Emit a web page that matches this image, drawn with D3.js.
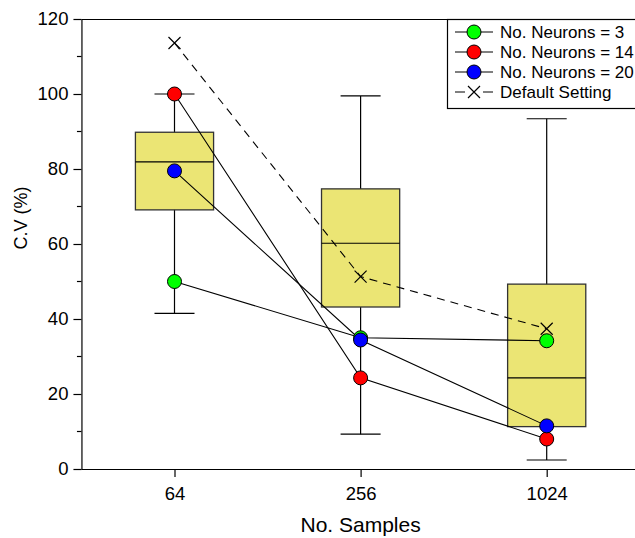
<!DOCTYPE html>
<html>
<head>
<meta charset="utf-8">
<script src="https://cdn.jsdelivr.net/npm/d3@7"></script>
<style>
  html, body { margin: 0; padding: 0; background: #fff; }
  svg { display: block; font-family: "Liberation Sans", Arial, sans-serif; }
</style>
</head>
<body>
<svg id="chart" width="635" height="538"></svg>
<script>
// Sample sizes on the x axis
const samples = ["64", "256", "1024"];

// Box statistics of C.V (%) for each sample size
const whiskerLow  = [41.5, 9.3, 2.4];
const boxLow      = [69.1, 43.2, 11.3];
const medians     = [81.9, 60.2, 24.3];
const boxHigh     = [89.8, 74.7, 49.3];
const whiskerHigh = [100.0, 99.5, 93.4];

// Single runs with a fixed number of neurons
const neurons3  = [50.0, 35.0, 34.2];
const neurons14 = [100.0, 24.3, 8.0];
const neurons20 = [79.5, 34.4, 11.5];
const defaults  = [113.6, 51.3, 37.4];

const seriesNames  = ["No. Neurons = 3", "No. Neurons = 14", "No. Neurons = 20", "Default Setting"];
const seriesColors = ["#00ff00", "#ff0000", "#0000ff", null];

const yTicks = [0, 20, 40, 60, 80, 100, 120];
const yMinorTicks = [10, 30, 50, 70, 90, 110];

const svg = d3.select("#chart");
const FONT = "Liberation Sans, Arial, sans-serif";

// Category index -> pixel; the plot spans half a step beyond the outer categories
const x = d3.scaleLinear().domain([0, 2]).range([174.5, 546.7]);
const plot = { left: x(-0.5), top: 19, bottom: 469, right: x(2.5) };
const y = d3.scaleLinear().domain([0, 120]).range([plot.bottom, plot.top]);
const step = x(1) - x(0);
const boxW = step * 0.42;
const capW = step * 0.215;

// Top frame line
svg.append("line").attr("x1", plot.left).attr("x2", plot.right)
  .attr("y1", plot.top + 0.5).attr("y2", plot.top + 0.5)
  .attr("stroke", "#000").attr("stroke-width", 1.2);

// Y axis
const yAxis = svg.append("g").attr("transform", `translate(${plot.left},0)`)
  .call(d3.axisLeft(y).tickValues(yTicks).tickSize(8).tickPadding(5).tickSizeOuter(0));
yAxis.select(".domain").attr("stroke-width", 1.2);
yAxis.selectAll(".tick line").attr("stroke-width", 1.2);
yAxis.selectAll("text").attr("font-size", 18.5).attr("font-family", FONT).attr("fill", "#000");
svg.append("g").selectAll("line").data(yMinorTicks).join("line")
  .attr("x1", plot.left - 4.5).attr("x2", plot.left)
  .attr("y1", d => y(d)).attr("y2", d => y(d))
  .attr("stroke", "#000").attr("stroke-width", 1.2);

// X axis
const xAxis = svg.append("g").attr("transform", `translate(0,${plot.bottom})`)
  .call(d3.axisBottom(x).tickValues([0, 1, 2]).tickFormat(i => samples[i])
    .tickSize(8).tickPadding(10).tickSizeOuter(0));
xAxis.select(".domain").attr("d", `M${plot.left},0.5H${plot.right}`).attr("stroke-width", 1.2);
xAxis.selectAll(".tick line").attr("stroke-width", 1.2);
xAxis.selectAll("text").attr("font-size", 18.5).attr("font-family", FONT).attr("fill", "#000");

// Axis titles
svg.append("text").attr("x", x(1)).attr("y", 532).attr("text-anchor", "middle")
  .attr("font-size", 21).text("No. Samples");
svg.append("text").attr("transform", "translate(26.5,218) rotate(-90)")
  .attr("text-anchor", "middle").attr("font-size", 18).text("C.V (%)");

// Box plots
const boxes = svg.append("g");
samples.forEach((s, i) => {
  const cx = x(i);
  const g = boxes.append("g");
  g.append("line").attr("x1", cx).attr("x2", cx)
    .attr("y1", y(whiskerLow[i])).attr("y2", y(whiskerHigh[i]))
    .attr("stroke", "#000").attr("stroke-width", 1.2);
  [whiskerLow[i], whiskerHigh[i]].forEach(v => {
    g.append("line").attr("x1", cx - capW / 2).attr("x2", cx + capW / 2)
      .attr("y1", y(v)).attr("y2", y(v))
      .attr("stroke", "#000").attr("stroke-width", 1.2);
  });
  g.append("rect").attr("x", cx - boxW / 2).attr("width", boxW)
    .attr("y", y(boxHigh[i])).attr("height", y(boxLow[i]) - y(boxHigh[i]))
    .attr("fill", "#ebe574").attr("stroke", "#333").attr("stroke-width", 1.3);
  g.append("line").attr("x1", cx - boxW / 2).attr("x2", cx + boxW / 2)
    .attr("y1", y(medians[i])).attr("y2", y(medians[i]))
    .attr("stroke", "#000").attr("stroke-width", 1.2);
});

// Connecting lines
const line = d3.line().x((d, i) => x(i)).y(d => y(d));
const allSeries = [neurons3, neurons14, neurons20];
svg.append("path").datum(defaults).attr("d", line)
  .attr("fill", "none").attr("stroke", "#000").attr("stroke-width", 1.1)
  .attr("stroke-dasharray", "8,6");
allSeries.forEach(vals => {
  svg.append("path").datum(vals).attr("d", line)
    .attr("fill", "none").attr("stroke", "#000").attr("stroke-width", 1.1);
});

// Cross markers for default setting
const cross = (g, cx, cy, r) => {
  g.append("path").attr("d", `M${cx - r},${cy - r}L${cx + r},${cy + r}M${cx - r},${cy + r}L${cx + r},${cy - r}`)
    .attr("stroke", "#000").attr("stroke-width", 1.2).attr("fill", "none");
};
const mk = svg.append("g");
defaults.forEach((v, i) => cross(mk, x(i), y(v), 6));

// Circle markers
allSeries.forEach((vals, k) => {
  mk.selectAll(null).data(vals).join("circle")
    .attr("cx", (d, i) => x(i)).attr("cy", d => y(d)).attr("r", 7)
    .attr("fill", seriesColors[k]).attr("stroke", "#000").attr("stroke-width", 1);
});

// Legend
const lg = svg.append("g");
lg.append("rect").attr("x", 447.5).attr("y", 19.5).attr("width", 200).attr("height", 89)
  .attr("fill", "#fff").attr("stroke", "#000").attr("stroke-width", 1.2);
const rowY = [32, 52, 72, 92];
seriesNames.forEach((name, k) => {
  const yy = rowY[k];
  lg.append("line").attr("x1", 455).attr("x2", 493).attr("y1", yy).attr("y2", yy)
    .attr("stroke", "#000").attr("stroke-width", 1.1);
  if (seriesColors[k]) {
    lg.append("circle").attr("cx", 474).attr("cy", yy).attr("r", 7)
      .attr("fill", seriesColors[k]).attr("stroke", "#000").attr("stroke-width", 1);
  } else {
    lg.append("rect").attr("x", 465).attr("y", yy - 8).attr("width", 18).attr("height", 16).attr("fill", "#fff");
    cross(lg, 474, yy, 6);
  }
  lg.append("text").attr("x", 500).attr("y", yy + 6).attr("font-size", 17).text(name);
});
</script>
</body>
</html>
